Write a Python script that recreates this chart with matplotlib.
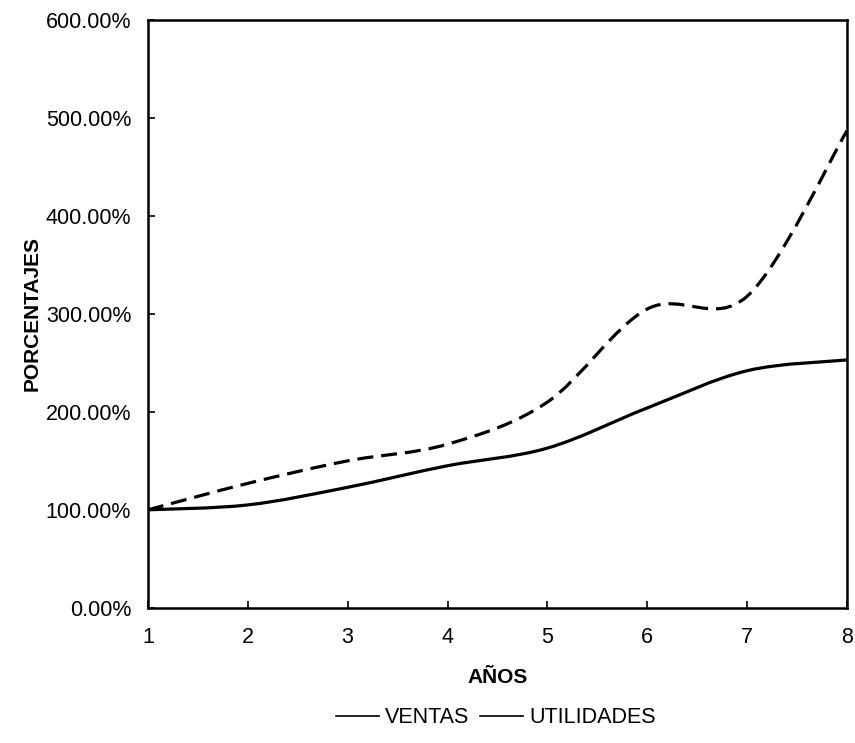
import numpy as np
import matplotlib
matplotlib.use('Agg')
import matplotlib.pyplot as plt
from matplotlib.path import Path
from matplotlib.patches import PathPatch
from matplotlib.lines import Line2D
from matplotlib.ticker import FuncFormatter

plt.rcParams['font.family'] = ['Liberation Sans', 'DejaVu Sans']

# data
years = [1, 2, 3, 4, 5, 6, 7, 8]
ventas = [100, 105, 123, 145, 163, 204, 242, 253]
utilidades = [100, 127, 150, 167, 210, 305, 318, 487]
y_ticks = [0, 100, 200, 300, 400, 500, 600]


def smooth_path(x, y):
    # Excel-style smoothed line: cubic bezier segments, control points at 1/6 of neighbours
    pts = np.column_stack([x, y]).astype(float)
    verts = [pts[0]]
    codes = [Path.MOVETO]
    n = len(pts)
    for i in range(n - 1):
        p0 = pts[i - 1] if i > 0 else pts[i]
        p1, p2 = pts[i], pts[i + 1]
        p3 = pts[i + 2] if i + 2 < n else pts[i + 1]
        c1 = p1 + (p2 - p0) / 6.0
        c2 = p2 - (p3 - p1) / 6.0
        verts += [c1, c2, p2]
        codes += [Path.CURVE4] * 3
    return Path(verts, codes)


fig = plt.figure(figsize=(8.55, 7.43), dpi=100)
ax = fig.add_axes([0.173, 0.182, 0.8176, 0.791])

ax.add_patch(PathPatch(smooth_path(years, ventas), fill=False, color='black',
                       lw=2.3, capstyle='butt'))
ax.add_patch(PathPatch(smooth_path(years, utilidades), fill=False, color='black',
                       lw=2.3, linestyle=(0, (5, 2.5)), capstyle='butt'))

ax.set_xlim(1, 8)
ax.set_ylim(0, 600)
ax.set_xticks(years)
ax.set_yticks(y_ticks)
ax.yaxis.set_major_formatter(FuncFormatter(lambda v, p: f'{v:.2f}%'))
ax.tick_params(direction='in', length=5, width=1.2, labelsize=15.5, colors='black')
ax.tick_params(axis='x', pad=14)
ax.tick_params(axis='y', pad=12)
for s in ax.spines.values():
    s.set_linewidth(1.8)
    s.set_color('black')

ax.set_xlabel('AÑOS', fontsize=15, fontweight='bold', labelpad=14)
ax.set_ylabel('PORCENTAJES', fontsize=15, fontweight='bold', labelpad=3)

handles = [Line2D([], [], color='black', lw=1.2),
           Line2D([], [], color='black', lw=1.2)]
fig.legend(handles, ['VENTAS', 'UTILIDADES'], loc='center', bbox_to_anchor=(0.580, 0.034),
           ncol=2, frameon=False, fontsize=15.5, handlelength=2.0, handletextpad=0.3,
           columnspacing=0.5)

fig.savefig('out.png', dpi=100)
